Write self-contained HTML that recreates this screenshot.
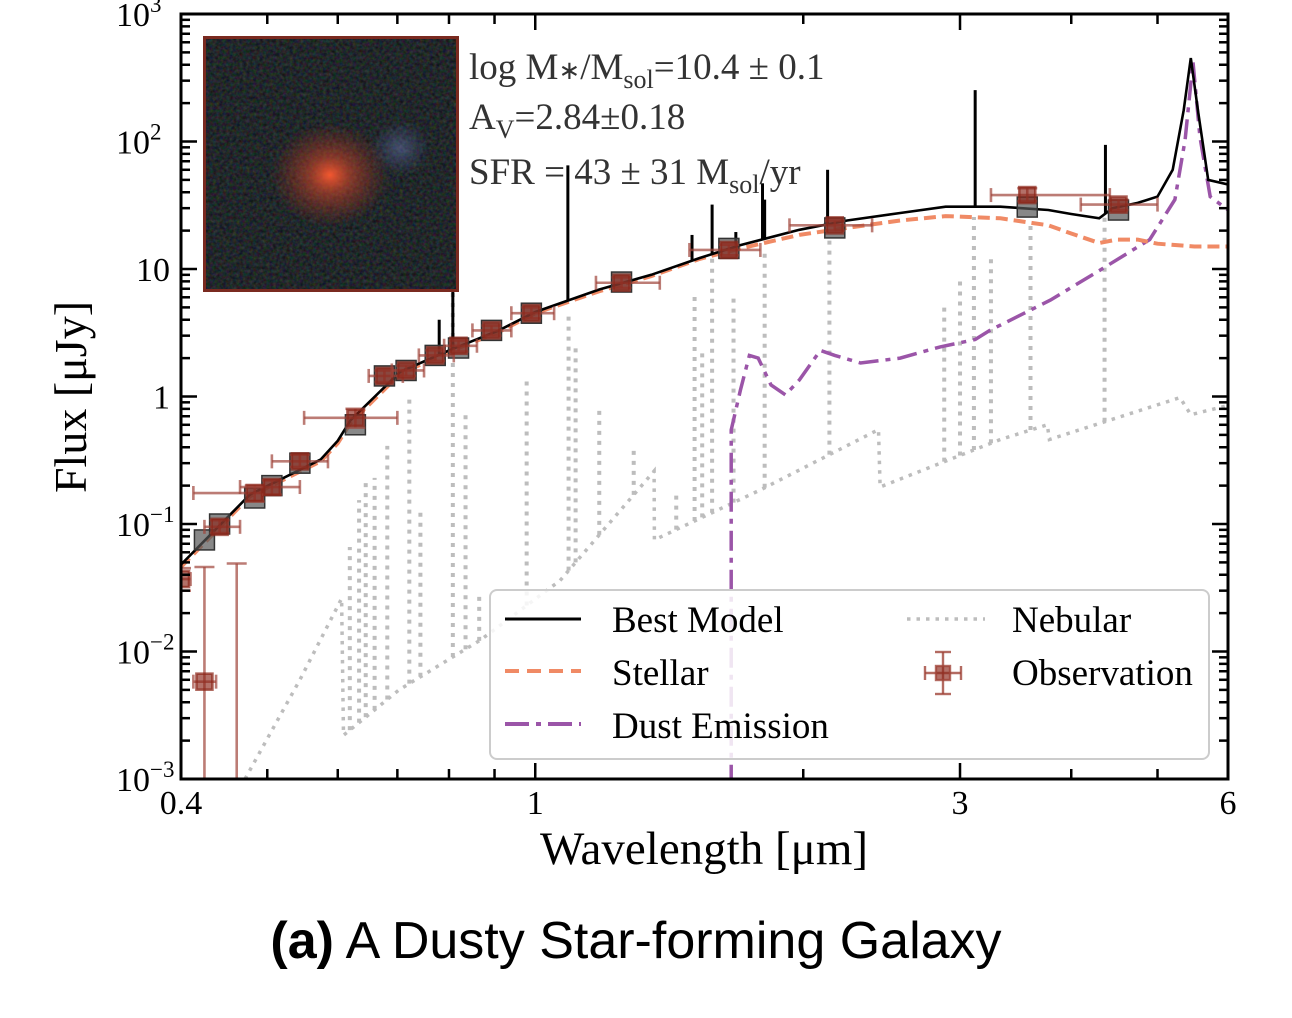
<!DOCTYPE html>
<html><head><meta charset="utf-8"><style>
html,body{margin:0;padding:0;background:#fff;width:1292px;height:1018px;overflow:hidden}
svg{display:block}
text{font-family:"Liberation Serif",serif}
</style></head><body>
<svg id="chart" width="1292" height="1018" viewBox="0 0 1292 1018" xmlns="http://www.w3.org/2000/svg">
<defs>
<clipPath id="plotclip"><rect x="181" y="14" width="1047" height="765"/></clipPath>
<radialGradient id="glow" cx="0.5" cy="0.5" r="0.5">
<stop offset="0" stop-color="#ff5a30" stop-opacity="0.95"/>
<stop offset="0.35" stop-color="#c8452a" stop-opacity="0.6"/>
<stop offset="1" stop-color="#a03020" stop-opacity="0"/>
</radialGradient>
<radialGradient id="glow2" cx="0.5" cy="0.5" r="0.5">
<stop offset="0" stop-color="#6a78b0" stop-opacity="0.5"/>
<stop offset="1" stop-color="#5060a0" stop-opacity="0"/>
</radialGradient>
<filter id="noise" x="0" y="0" width="1" height="1" color-interpolation-filters="sRGB">
<feTurbulence type="fractalNoise" baseFrequency="0.3" numOctaves="2" seed="4"/>
<feColorMatrix type="matrix" values="0.5 0 0 0 -0.1  0 0.5 0 0 -0.09  0 0 0.5 0 -0.08  0 0 0 0 1"/>
</filter>
</defs>
<g id="plot" clip-path="url(#plotclip)"></g>
<g id="axes"></g>
</svg>
<script>
// ---- data ----
const bestWl = [0.40,0.478,0.574,0.60,0.62,0.705,0.80,0.91,1.0,1.18,1.35,1.53,1.70,1.98,2.24,2.57,2.89,3.33,3.77,4.0,4.3,4.45,4.75,5.0,5.2,5.35,5.45,5.55,5.7,6.0];
const bestF  = [0.048,0.17,0.32,0.45,0.65,1.56,2.3,3.3,4.6,6.9,9.0,12.2,15.4,20.3,24,27.5,30.8,30.8,29,27,25,30,33,37,60,176,452,176,50,46];
const stelWl = [0.40,0.478,0.574,0.60,0.62,0.705,0.80,0.91,1.0,1.18,1.35,1.53,1.70,1.98,2.24,2.57,2.89,3.33,3.77,4.0,4.3,4.5,4.75,5.0,5.5,6.0];
const stelF  = [0.046,0.165,0.31,0.43,0.62,1.5,2.25,3.2,4.5,6.7,8.8,12,14.5,18.5,21,24,26,25,22,19,16,17,17,15.8,15,15];
const lineWl = [0.78,0.808,1.088,1.50,1.58,1.68,1.80,1.81,2.13,3.12,4.37];
const lineF  = [4,50,65,18.5,32,19.5,47,35,60,253,94];
const dustWl = [1.66,1.66,1.70,1.74,1.78,1.84,1.91,1.98,2.09,2.17,2.32,2.57,2.85,3.12,3.24,3.79,4.31,4.90,5.23,5.37,5.48,5.58,5.73,6.0];
const dustF  = [0.0009,0.546,1.12,2.1,2.0,1.23,1.03,1.35,2.3,2.1,1.83,2.0,2.45,2.8,3.3,5.7,9.8,17,35,103,420,109,37,29];
const nebWl = [0.472,0.544,0.606,0.609,0.703,0.868,1.066,1.36,1.361,1.79,2.43,2.44,3.33,3.76,3.78,5.3,5.45,6.0];
const nebF  = [0.001,0.006,0.026,0.0022,0.005,0.0123,0.036,0.26,0.075,0.185,0.55,0.195,0.46,0.6,0.46,0.98,0.72,0.85];
const nebLineWl = [0.619,0.634,0.645,0.66,0.682,0.722,0.743,0.808,0.835,0.865,0.978,1.09,1.11,1.18,1.29,1.44,1.51,1.54,1.58,1.67,1.81,2.14,2.88,3.0,3.11,3.25,3.6,4.36];
const nebLineF  = [0.066,0.154,0.23,0.23,0.41,1.0,0.13,6.9,0.75,0.028,1.42,4.5,2.4,0.83,0.40,0.175,6.5,2.2,13.4,6.3,14,17.8,5.5,8.2,25.6,12.9,23,25.6];
const obsWl   = [0.40,0.425,0.462,0.442,0.484,0.506,0.544,0.628,0.677,0.716,0.772,0.82,0.893,0.99,1.25,1.65,2.17,3.57,4.52];
const obsF    = [0.037,0.0058,0.0005,0.095,0.175,0.195,0.31,0.68,1.45,1.6,2.1,2.5,3.3,4.5,7.8,14.1,22,38,32];
const obsWlLo = [0.39,0.413,0.462,0.425,0.413,0.466,0.506,0.55,0.65,0.69,0.74,0.79,0.85,0.94,1.17,1.49,1.93,3.25,4.1];
const obsWlHi = [0.41,0.438,0.462,0.466,0.493,0.544,0.585,0.70,0.71,0.75,0.81,0.86,0.94,1.05,1.38,1.79,2.39,4.42,5.0];
const obsFLo  = [0.030,0.0009,0.0009,0.085,0.15,0.17,0.28,0.57,1.3,1.45,1.9,2.25,3.0,4.1,7.1,12.8,20,34,29];
const obsFHi  = [0.045,0.046,0.049,0.107,0.2,0.22,0.35,0.8,1.6,1.75,2.3,2.75,3.6,5.0,8.6,15.5,24,43,35];
const photWl  = [0.425,0.442,0.484,0.506,0.544,0.628,0.677,0.716,0.772,0.82,0.893,0.99,1.25,1.65,2.17,3.57,4.52];
const photF   = [0.075,0.1,0.16,0.2,0.3,0.6,1.45,1.6,2.1,2.4,3.3,4.5,7.9,14.5,21,30.6,29];
const xTickVals = [0.4,1,3,6];
const xTickLabels = ["0.4","1","3","6"];
const xMinorVals = [0.5,0.6,0.7,0.8,0.9,2,4,5];
const yDecades = [-3,-2,-1,0,1,2,3];
const yTickLabels = ["10","10","10","1","10","10","10"];
const yTickSups = ["\u22123","\u22122","\u22121","","","2","3"];

// ---- axes ----
const L=181,R=1228,T=14,B=779;
const X = w => L + Math.log10(w/0.4)/Math.log10(6/0.4)*(R-L);
const Y = f => B - (Math.log10(f)+3)/6*(B-T);
const NS="http://www.w3.org/2000/svg";
const plot=document.getElementById('plot'), axes=document.getElementById('axes'), svg=document.getElementById('chart');
function mk(tag,attrs,parent){const e=document.createElementNS(NS,tag);for(const k in attrs)e.setAttribute(k,attrs[k]);(parent||plot).appendChild(e);return e;}
function pathOf(ws,fs){return ws.map((w,i)=>(i?'L':'M')+X(w).toFixed(1)+','+Y(fs[i]).toFixed(1)).join(' ');}
function interp(ws,fs,w){for(let i=0;i<ws.length-1;i++){if(w>=ws[i]&&w<=ws[i+1]){const t=(Math.log(w)-Math.log(ws[i]))/(Math.log(ws[i+1])-Math.log(ws[i])||1);return Math.exp(Math.log(fs[i])+t*(Math.log(fs[i+1])-Math.log(fs[i])));}}return w<ws[0]?fs[0]:fs[fs.length-1];}

let e=mk('path',{d:pathOf(nebWl,nebF),fill:'none',stroke:'#bdbdbd','stroke-width':3.5,'stroke-dasharray':'3.5,6'});


nebLineWl.forEach((w,i)=>{
  const c=interp(nebWl,nebF,w);
  const l=mk('line',{x1:X(w),x2:X(w),y1:Y(c),y2:Y(nebLineF[i]),stroke:'#bdbdbd','stroke-width':4,'stroke-dasharray':'4,6'});
  
  
});
e=mk('path',{d:pathOf(dustWl,dustF),fill:'none',stroke:'#9b55a8','stroke-width':3.5,'stroke-dasharray':'20,7,5,7'});


e=mk('path',{d:pathOf(stelWl,stelF),fill:'none',stroke:'#f08a65','stroke-width':4,'stroke-dasharray':'12,6'});


e=mk('path',{d:pathOf(bestWl,bestF),fill:'none',stroke:'#000','stroke-width':2.6});


lineWl.forEach((w,i)=>{
  const c=interp(bestWl,bestF,w);
  const l=mk('line',{x1:X(w),x2:X(w),y1:Y(c),y2:Y(lineF[i]),stroke:'#000','stroke-width':3});
  
  
});
photWl.forEach((w,i)=>{
  const r=mk('rect',{x:X(w)-10,y:Y(photF[i])-10,width:20,height:20,fill:'#555','fill-opacity':0.7,stroke:'#333','stroke-width':1.5});
  
  
});
obsWl.forEach((w,i)=>{
  const g=mk('g',{stroke:'#a0453a','stroke-opacity':0.7,'stroke-width':2.6});
  
  
  const x=X(w),y=Y(obsF[i]),x1=X(obsWlLo[i]),x2=X(obsWlHi[i]),y1=Y(obsFHi[i]),y2=Y(obsFLo[i]);
  mk('line',{x1:x1,x2:x2,y1:y,y2:y},g);mk('line',{x1:x1,x2:x1,y1:y-7,y2:y+7},g);mk('line',{x1:x2,x2:x2,y1:y-7,y2:y+7},g);
  mk('line',{x1:x,x2:x,y1:y1,y2:y2},g);mk('line',{x1:x-10,x2:x+10,y1:y1,y2:y1},g);mk('line',{x1:x-10,x2:x+10,y1:y2,y2:y2},g);
  mk('rect',{x:x-8,y:y-8,width:16,height:16,fill:'#8b2518','fill-opacity':0.65,stroke:'#8b2518'},g);
});

const inset=mk('g',{},svg);


mk('rect',{x:203,y:36,width:256,height:256,fill:'#1c2629'},inset);
mk('rect',{x:203,y:36,width:256,height:256,filter:'url(#noise)',opacity:0.55},inset);
mk('ellipse',{cx:400,cy:148,rx:30,ry:28,fill:'url(#glow2)'},inset);
mk('ellipse',{cx:330,cy:175,rx:60,ry:52,fill:'url(#glow)'},inset);
mk('rect',{x:204.5,y:37.5,width:253,height:253,fill:'none',stroke:'#7a2a20','stroke-width':3},inset);

e=mk('rect',{x:L,y:T,width:R-L,height:B-T,fill:'none',stroke:'#000','stroke-width':3},axes);


function tick(x1,y1,x2,y2){mk('line',{x1,y1,x2,y2,stroke:'#000','stroke-width':2.5},axes);}
xTickVals.forEach((v,i)=>{const x=X(v);tick(x,B,x,B-16);tick(x,T,x,T+16);
  const t=mk('text',{x:x,y:814,'text-anchor':'middle','font-size':34,fill:'#000'},axes);t.textContent=xTickLabels[i];
  
  });
xMinorVals.forEach(v=>{const x=X(v);tick(x,B,x,B-10);tick(x,T,x,T+10);});
yDecades.forEach((d,i)=>{const y=Y(Math.pow(10,d));tick(L,y,L+16,y);tick(R,y,R-16,y);
  if(d<3){for(let m=2;m<10;m++){const ym=Y(m*Math.pow(10,d));tick(L,ym,L+9,ym);tick(R,ym,R-9,ym);}}
  const t=mk('text',{x:yTickSups[i]?150:170,y:y+12,'text-anchor':'end','font-size':34,fill:'#000'},axes);
  t.textContent=yTickLabels[i];
  
  
  if(yTickSups[i]){const s=mk('text',{x:150,y:y-2,'font-size':23,fill:'#000'},axes);s.textContent=yTickSups[i];
    
    }
});
</script>
<script>
(function(){
const svg=document.getElementById('chart');
svg.insertAdjacentHTML('beforeend',`
<text transform="translate(86,397) rotate(-90)" text-anchor="middle" font-size="46" fill="#000">Flux [μJy]</text>
<text x="704" y="864" text-anchor="middle" font-size="47" fill="#000">Wavelength [μm]</text>
<text x="469" y="79" font-size="37" fill="#333">log M<tspan font-size="26">∗</tspan>/M<tspan font-size="26" dy="9">sol</tspan><tspan dy="-9">=10.4 ± 0.1</tspan></text>
<text x="469" y="129" font-size="37" fill="#333">A<tspan font-size="26" dy="9">V</tspan><tspan dy="-9">=2.84±0.18</tspan></text>
<text x="469" y="184" font-size="37" fill="#333">SFR = 43 ± 31 M<tspan font-size="26" dy="9">sol</tspan><tspan dy="-9">/yr</tspan></text>
<g>
<rect x="490" y="590" width="719" height="169" rx="7" fill="#fff" fill-opacity="0.85" stroke="#ccc" stroke-width="2"/>
<line x1="505" y1="619" x2="581" y2="619" stroke="#000" stroke-width="3"/>
<text x="612" y="632" font-size="37">Best Model</text>
<line x1="505" y1="671" x2="581" y2="671" stroke="#f08a65" stroke-width="4" stroke-dasharray="14,8"/>
<text x="612" y="685" font-size="37">Stellar</text>
<line x1="505" y1="724" x2="581" y2="724" stroke="#9b55a8" stroke-width="4" stroke-dasharray="24,7,5,7"/>
<text x="612" y="738" font-size="37">Dust Emission</text>
<line x1="907" y1="619" x2="985" y2="619" stroke="#bdbdbd" stroke-width="3.5" stroke-dasharray="3.5,6"/>
<text x="1012" y="632" font-size="37">Nebular</text>
<g stroke="#a0453a" stroke-opacity="0.8" stroke-width="2.4"><line x1="925" y1="673" x2="961" y2="673"/><line x1="943" y1="652" x2="943" y2="694"/><line x1="935" y1="652" x2="951" y2="652"/><line x1="935" y1="694" x2="951" y2="694"/><line x1="925" y1="666" x2="925" y2="680"/><line x1="961" y1="666" x2="961" y2="680"/><rect x="936" y="666" width="14" height="14" fill="#8b2518" fill-opacity="0.65"/></g>
<text x="1012" y="685" font-size="37">Observation</text>
</g>
<text x="636" y="958" text-anchor="middle" font-size="52" style="font-family:'Liberation Sans',sans-serif"><tspan font-weight="bold">(a)</tspan> A Dusty Star-forming Galaxy</text>
`);
})();
</script>
</body></html>
